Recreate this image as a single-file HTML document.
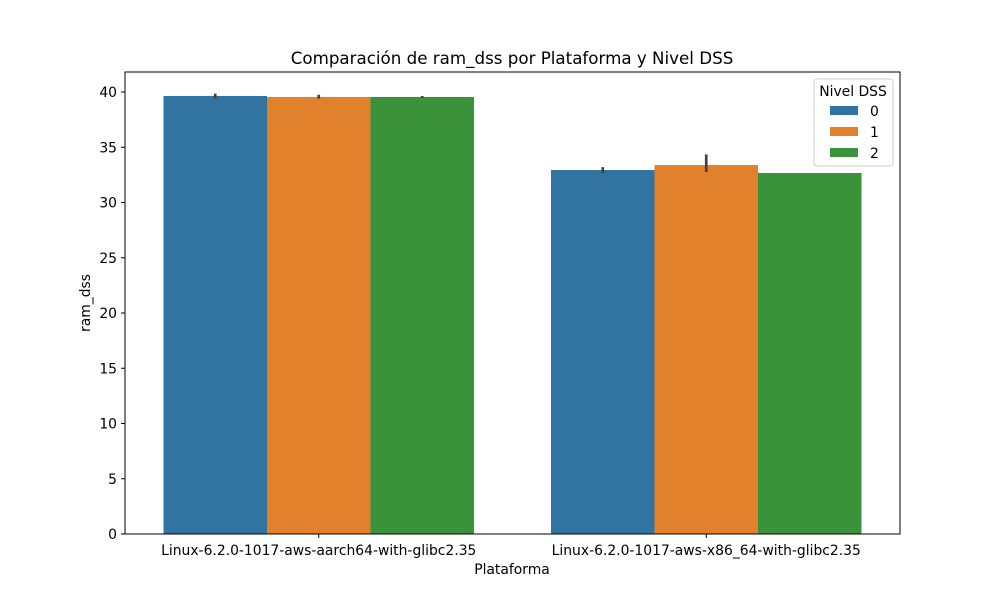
<!DOCTYPE html>
<html><head><meta charset="utf-8"><style>
body{margin:0;background:#fff;font-family:"Liberation Sans","DejaVu Sans",sans-serif;}
svg text{font-family:"DejaVu Sans","Liberation Sans",sans-serif;}
</style></head><body>
<svg id="chart" width="1000" height="600" xmlns="http://www.w3.org/2000/svg"></svg>
<script>
const categories = ["Linux-6.2.0-1017-aws-aarch64-with-glibc2.35","Linux-6.2.0-1017-aws-x86_64-with-glibc2.35"];
const levels = ["0","1","2"];
const values0 = [39.64, 32.94];
const values1 = [39.55, 33.39];
const values2 = [39.55, 32.67];
const errLow0 = [39.4, 32.67];
const errHigh0 = [39.85, 33.2];
const errLow1 = [39.4, 32.76];
const errHigh1 = [39.75, 34.35];
const errLow2 = [39.46, 32.67];
const errHigh2 = [39.64, 32.67];
const yTicks = [0,5,10,15,20,25,30,35,40];
const colors = ["#3274a1","#e1812c","#3a923a"];

const svg = document.getElementById('chart');
const NS = "http://www.w3.org/2000/svg";
const L=125,R=900,T=72,B=534;
function y(v){return B - v*(B-92)/40;}
function groupX(i){return L + (R-L)*(i+0.5)/categories.length;}
const barW = 103.5;
function mk(tag, attrs, text){const e=document.createElementNS(NS,tag);for(const k in attrs)e.setAttribute(k,attrs[k]);if(text!==undefined)e.textContent=text;svg.appendChild(e);return e;}

let e;
e=mk('text',{x:512,y:64,'font-size':16.7,'text-anchor':'middle'},'Comparación de ram_dss por Plataforma y Nivel DSS');



const series=[values0,values1,values2], lows=[errLow0,errLow1,errLow2], highs=[errHigh0,errHigh1,errHigh2];
categories.forEach((c,i)=>{
  series.forEach((s,j)=>{
    const x0 = groupX(i) - 1.5*barW + j*barW;
    e=mk('rect',{x:x0,y:y(s[i]),width:barW,height:B-y(s[i]),fill:colors[j]});
    
    
    e=mk('line',{x1:x0+barW/2,x2:x0+barW/2,y1:y(lows[j][i]),y2:y(highs[j][i]),stroke:'#424242','stroke-width':2.7});
    
    
  });
});
e=mk('rect',{x:L,y:T,width:R-L,height:B-T,fill:'none',stroke:'#000','stroke-width':1});


yTicks.forEach(t=>{
  e=mk('line',{x1:L-4,x2:L,y1:y(t),y2:y(t),stroke:'#000'});
  
  
  e=mk('text',{x:L-8,y:y(t)+5,'font-size':13.9,'text-anchor':'end'},String(t));
  
  
});
categories.forEach((c,i)=>{
  e=mk('line',{x1:groupX(i),x2:groupX(i),y1:B,y2:B+4,stroke:'#000'});
  
  
  e=mk('text',{x:groupX(i),y:B+21,'font-size':13.9,'text-anchor':'middle'},c);
  
  
});
e=mk('text',{x:512,y:574,'font-size':13.9,'text-anchor':'middle'},'Plataforma');


e=mk('text',{x:90,y:303,'font-size':13.9,'text-anchor':'middle',transform:'rotate(-90 90 303)'},'ram_dss');


e=mk('rect',{x:814,y:79,width:79,height:87,rx:3,fill:'#fff',stroke:'#ccc','fill-opacity':0.8});


e=mk('text',{x:853,y:96,'font-size':13.9,'text-anchor':'middle'},'Nivel DSS');


levels.forEach((l,j)=>{
  e=mk('rect',{x:830,y:106+j*21,width:28,height:9,fill:colors[j]});
  
  
  e=mk('text',{x:870,y:116+j*21,'font-size':13.9},l);
  
  
});
</script>
</body></html>
